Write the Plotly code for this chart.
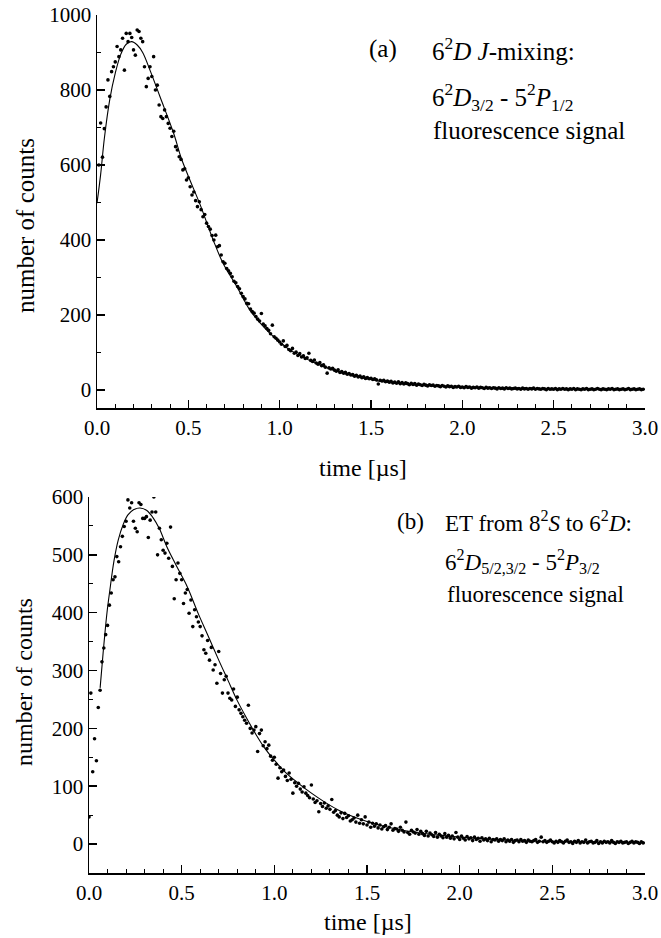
import plotly.graph_objects as go

# ---------------- data ----------------
# panel (a): measured counts, sampled every 0.01 us starting at 0.01 us
a_start = 0.01
a_counts = [
    600, 712, 621, 697, 755, 827, 783, 849, 862, 875,
    916, 889, 907, 938, 853, 951, 929, 951, 940, 907,
    893, 960, 956, 938, 929, 862, 809, 831, 862, 836,
    889, 800, 813, 760, 729, 724, 747, 729, 711, 698,
    676, 690, 649, 640, 622, 615, 587, 590, 560, 566,
    542, 520, 528, 505, 489, 502, 481, 462, 468, 445,
    436, 429, 412, 400, 413, 382, 385, 360, 342, 338,
    324, 318, 311, 302, 290, 286, 276, 270, 258, 249,
    243, 231, 230, 216, 209, 205, 196, 189, 184, 204,
    176, 171, 164, 159, 150, 173, 142, 138, 133, 128,
    122, 131, 116, 119, 108, 105, 111, 98, 101, 92,
    97, 88, 91, 84, 86, 98, 79, 76, 80, 72,
    69, 73, 65, 67, 61, 45, 59, 56, 58, 53,
    50, 54, 47, 49, 45, 47, 42, 44, 40, 41,
    37, 39, 35, 37, 33, 35, 31, 33, 30, 31,
    28, 30, 27, 16, 26, 24, 26, 22, 24, 21,
    23, 19, 21, 18, 22, 17, 20, 16, 19, 17,
    14, 18, 15, 17, 13, 16, 14, 12, 15, 13,
    11, 14, 12, 13, 10, 12, 11, 9, 12, 10,
    8, 11, 9, 10, 7, 9, 8, 10, 7, 8,
    6, 9, 7, 8, 5, 7, 6, 8, 5, 7,
    6, 4, 7, 5, 6, 4, 6, 5, 3, 6,
    4, 5, 3, 6, 4, 5, 3, 4, 5, 3,
    4, 2, 5, 3, 4, 2, 4, 3, 5, 2,
    4, 3, 2, 4, 3, 1, 4, 2, 3, 2,
    4, 1, 3, 2, 4, 2, 3, 1, 3, 2,
    4, 1, 3, 2, 1, 3, 2, 4, 1, 2,
    3, 1, 2, 4, 2, 1, 3, 2, 1, 3,
    2, 4, 1, 2, 3, 1, 2, 3, 1, 2,
    4, 1, 2, 3, 1, 2, 3, 1, 2,
]
a_fit_t = [0, 0.02, 0.04, 0.07, 0.1, 0.13, 0.16, 0.19, 0.22, 0.25, 0.29, 0.345,
           0.42, 0.46, 0.5, 0.564, 0.636, 0.69, 0.765, 0.837, 0.9, 0.947, 1.0,
           1.056, 1.2, 1.347, 1.45, 1.565, 1.7, 1.85, 2.0, 2.2, 2.4, 2.6, 2.8, 3.0]
a_fit_v = [498, 575, 670, 775, 845, 895, 922, 929, 920, 900, 853, 782,
           684, 620, 570, 495, 400, 338, 276, 213, 175, 151, 128,
           107, 71, 45, 33, 22, 15, 11, 8, 5, 4, 3, 2, 2]

# panel (b): measured counts, sampled every 0.01 us starting at 0.00 us
b_start = 0.0
b_counts = [
    47, 261, 125, 182, 144, 236, 266, 315, 339, 362,
    378, 413, 434, 457, 462, 497, 488, 514, 532, 549,
    558, 595, 581, 590, 558, 546, 540, 590, 587, 563,
    563, 566, 530, 560, 574, 600, 574, 500, 546, 526,
    508, 503, 520, 494, 548, 480, 424, 457, 486, 468,
    457, 416, 434, 440, 399, 422, 376, 405, 393, 384,
    376, 360, 336, 330, 352, 318, 340, 301, 310, 278,
    333, 295, 261, 284, 290, 261, 252, 249, 268, 238,
    254, 232, 226, 220, 214, 209, 240, 200, 192, 197,
    203, 160, 191, 197, 170, 177, 165, 171, 152, 145,
    150, 138, 114, 132, 125, 128, 117, 110, 123, 112,
    88, 106, 100, 105, 95, 90, 99, 88, 84, 80,
    102, 78, 72, 75, 56, 70, 65, 71, 62, 66,
    60, 77, 55, 58, 50, 47, 54, 44, 53, 46,
    49, 40, 42, 45, 38, 50, 36, 42, 35, 47,
    33, 38, 29, 36, 31, 35, 28, 33, 26, 30,
    32, 25, 29, 35, 24, 27, 26, 22, 29, 24,
    21, 38, 20, 17, 24, 21, 19, 25, 17, 22,
    18, 15, 22, 14, 19, 16, 13, 20, 12, 17,
    14, 11, 18, 12, 15, 10, 14, 9, 20, 12,
    8, 14, 10, 7, 13, 9, 11, 6, 12, 8,
    10, 5, 11, 7, 9, 6, 10, 4, 8, 7,
    9, 5, 8, 6, 9, 4, 7, 5, 8, 3,
    6, 7, 4, 8, 5, 6, 3, 7, 5, 4,
    6, 8, 3, 5, 12, 4, 6, 3, 5, 7,
    4, 2, 5, 3, 6, 4, 2, 5, 7, 3,
    4, 1, 5, 3, 6, 2, 4, 3, 7, 2,
    4, 5, 2, 3, 6, 1, 4, 2, 5, 3,
    4, 2, 6, 3, 1, 4, 3, 5, 2, 3,
    4, 1, 3, 5, 2, 4, 3, 1, 4, 2,
]
b_fit_t = [0.06, 0.076, 0.097, 0.113, 0.135, 0.158, 0.185, 0.21, 0.24, 0.275, 0.31,
           0.346, 0.38, 0.42, 0.47, 0.53, 0.59, 0.64, 0.70, 0.75, 0.80, 0.85, 0.90,
           0.95, 1.00, 1.06, 1.13, 1.20, 1.27, 1.35, 1.42, 1.50, 1.60, 1.75, 1.90,
           2.00, 2.20, 2.40, 2.60, 2.80, 3.00]
b_fit_v = [270, 330, 400, 440, 490, 526, 553, 569, 578, 581, 577,
           564, 545, 514, 482, 445, 398, 362, 318, 283, 248, 218, 190,
           165, 145, 124, 105, 88, 73, 58, 48, 39, 30, 21, 15,
           12, 8, 5, 4, 3, 2]

x_ticks = [0.0, 0.5, 1.0, 1.5, 2.0, 2.5, 3.0]
x_ticktext = ["0.0", "0.5", "1.0", "1.5", "2.0", "2.5", "3.0"]

a_t = [round(a_start + 0.01 * i, 2) for i in range(len(a_counts))]
b_t = [round(b_start + 0.01 * i, 2) for i in range(len(b_counts))]

# ---------------- figure ----------------
W, H = 661, 938
FONT = "Liberation Serif"


def px(x):
    return x / W


def py(y):
    return 1 - y / H


fig = go.Figure()
mk = dict(color="black", size=3.6, line=dict(width=0))
fig.add_trace(go.Scatter(x=a_t, y=a_counts, mode="markers", marker=mk,
                         xaxis="x", yaxis="y", showlegend=False, hoverinfo="skip"))
fig.add_trace(go.Scatter(x=a_fit_t, y=a_fit_v, mode="lines", line=dict(color="black", width=1.1, shape="spline"),
                         xaxis="x", yaxis="y", showlegend=False, hoverinfo="skip"))
fig.add_trace(go.Scatter(x=b_t, y=b_counts, mode="markers", marker=mk,
                         xaxis="x2", yaxis="y2", showlegend=False, hoverinfo="skip"))
fig.add_trace(go.Scatter(x=b_fit_t, y=b_fit_v, mode="lines", line=dict(color="black", width=1.1, shape="spline"),
                         xaxis="x2", yaxis="y2", showlegend=False, hoverinfo="skip"))

axcommon = dict(showline=True, linecolor="black", linewidth=1.5, ticks="inside",
                ticklen=8, tickwidth=1.5, tickcolor="black", showgrid=False,
                zeroline=False, mirror=False, automargin=False,
                tickfont=dict(family=FONT, size=21, color="black"))

fig.update_layout(
    width=W, height=H,
    margin=dict(l=0, r=0, t=0, b=0, pad=0, autoexpand=False),
    paper_bgcolor="white", plot_bgcolor="white",
    font=dict(family=FONT, color="black"),
    xaxis=dict(domain=[px(97), px(645)], range=[0, 3], anchor="y",
               tickvals=x_ticks, ticktext=x_ticktext,
               minor=dict(dtick=0.1, tick0=0, ticks="inside", ticklen=4, tickcolor="black", tickwidth=1),
               **axcommon),
    yaxis=dict(domain=[py(408), py(15)], range=[-48, 1000], anchor="x",
               tickmode="linear", tick0=0, dtick=200,
               minor=dict(dtick=100, tick0=0, ticks="inside", ticklen=4, tickcolor="black", tickwidth=1),
               **axcommon),
    xaxis2=dict(domain=[px(89), px(645)], range=[0, 3], anchor="y2",
                tickvals=x_ticks, ticktext=x_ticktext,
                minor=dict(dtick=0.1, tick0=0, ticks="inside", ticklen=4, tickcolor="black", tickwidth=1),
                **axcommon),
    yaxis2=dict(domain=[py(873), py(497)], range=[-50, 600], anchor="x2",
                tickmode="linear", tick0=0, dtick=100,
                minor=dict(dtick=50, tick0=0, ticks="inside", ticklen=4, tickcolor="black", tickwidth=1),
                **axcommon),
)

ann = []


def add_text(x, y, text, size, xanchor="left", angle=0):
    ann.append(dict(x=px(x), y=py(y), xref="paper", yref="paper", text=text,
                    showarrow=False, xanchor=xanchor, yanchor="middle",
                    textangle=angle, font=dict(family=FONT, size=size, color="black")))


# axis titles
add_text(26, 226, "number of counts", 25, xanchor="center", angle=-90)
add_text(363, 468, "time [\u00b5s]", 24, xanchor="center")
add_text(24, 682, "number of counts", 24, xanchor="center", angle=-90)
add_text(368, 922, "time [\u00b5s]", 24, xanchor="center")

# panel (a) labels
add_text(367, 49, "(a)", 25)
add_text(430, 49, "6<sup>2</sup><i>D J</i>-mixing:", 25)
add_text(430, 97, "6<sup>2</sup><i>D</i><sub>3/2</sub> - 5<sup>2</sup><i>P</i><sub>1/2</sub>", 25)
add_text(431, 130, "fluorescence signal", 25)

# panel (b) labels
add_text(395, 521, "(b)", 23)
add_text(443, 521, "ET from 8<sup>2</sup><i>S</i> to 6<sup>2</sup><i>D</i>:", 23)
add_text(443, 561, "6<sup>2</sup><i>D</i><sub>5/2,3/2</sub> - 5<sup>2</sup><i>P</i><sub>3/2</sub>", 23)
add_text(445, 594, "fluorescence signal", 23)

fig.update_layout(annotations=ann)
fig.write_html("out.html",
               config={"displayModeBar": False, "staticPlot": True},
               post_script="document.body.style.margin='0px';document.body.style.overflow='hidden';")
